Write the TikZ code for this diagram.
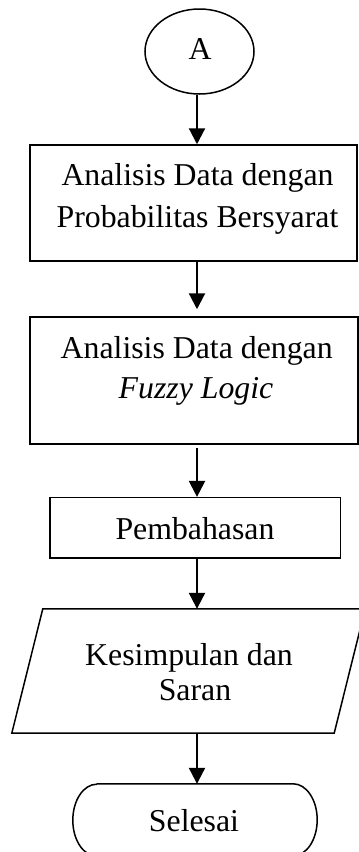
\documentclass[tikz,border=0pt]{standalone}
\usepackage{fontspec}
\setmainfont{Liberation Serif}
\usetikzlibrary{shapes.geometric,arrows.meta}

\begin{document}
\begin{tikzpicture}[x=1pt,y=-1pt,
  shapeline/.style={draw=black,line width=1.5pt},
  boxnode/.style={shapeline,rectangle,inner sep=0pt},
  ghost/.style={rectangle,inner sep=0pt},
  txt/.style={anchor=base,inner sep=0pt,font=\fontsize{31.8}{42}\selectfont},
  arr/.style={line width=2.2pt,-{Triangle[width=16pt,length=16pt]}}]
\useasboundingbox (0,0) rectangle (359,852);
\coordinate (axis) at (197,0);

% start connector
\node[shapeline,ellipse,inner sep=0pt,minimum width=109pt,minimum height=85pt] (a) at (199.5,51.5) {};
\node[txt] (al) at (200,59.5) {A};

% process boxes
\node[boxnode,minimum width=327pt,minimum height=116pt] (b1) at (193.5,203) {};
\node[txt] (b1l1) at (197.5,185) {Analisis Data dengan};
\node[txt] (b1l2) at (197.5,227) {Probabilitas Bersyarat};

\node[boxnode,minimum width=328pt,minimum height=127pt] (b2) at (194,380.5) {};
\node[txt] (b2l1) at (196.7,358) {Analisis Data dengan};
\node[txt] (b2l2) at (196,398) {\itshape Fuzzy Logic};

\node[boxnode,minimum width=290.7pt,minimum height=60.3pt] (b3) at (195.3,527.8) {};
\node[txt] (b3l1) at (195,539) {Pembahasan};

% output (parallelogram)
\node[ghost,minimum width=322pt,minimum height=124pt] (ks) at (188.5,671) {};
\draw[shapeline] ([xshift=-15.5pt]ks.south west) -- ([xshift=-15.5pt]ks.south east)
  -- ([xshift=15.5pt]ks.north east) -- ([xshift=15.5pt]ks.north west) -- cycle;
\node[txt] (ksl1) at (189,665) {Kesimpulan dan};
\node[txt] (ksl2) at (195,700) {Saran};

% terminator
\node[ghost,minimum width=244pt,minimum height=72pt] (end) at (195,820) {};
\draw[shapeline] ([xshift=24pt]end.north west) -- ([xshift=-24pt]end.north east)
  arc[start angle=-90,end angle=90,x radius=24,y radius=36]
  -- ([xshift=24pt]end.south west)
  arc[start angle=90,end angle=270,x radius=24,y radius=36];
\node[txt] (endl) at (194,831.7) {Selesai};

% flow
\draw[arr] (a.south -| axis) -- (b1.north -| axis);
\draw[arr,shorten >=7pt] (b1.south -| axis) -- (b2.north -| axis);
\draw[arr,shorten <=3pt] (b2.south -| axis) -- (b3.north -| axis);
\draw[arr] (b3.south -| axis) -- (ks.north -| axis);
\draw[arr] (ks.south -| axis) -- (end.north -| axis);
\end{tikzpicture}
\end{document}
